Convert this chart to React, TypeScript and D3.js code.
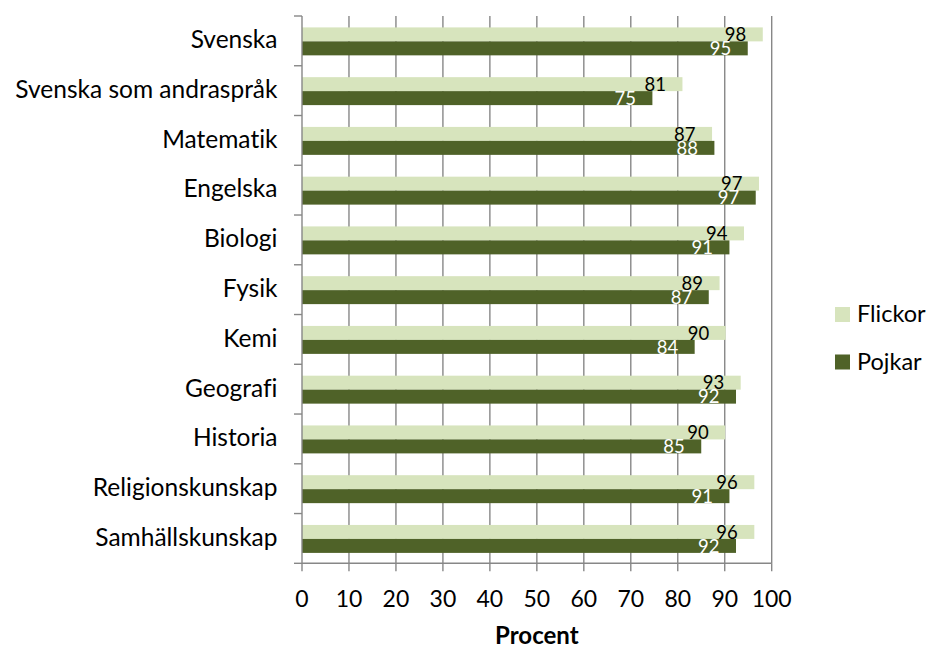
import React from 'react';
import * as d3 from 'd3';

const categories = [
  'Svenska',
  'Svenska som andraspråk',
  'Matematik',
  'Engelska',
  'Biologi',
  'Fysik',
  'Kemi',
  'Geografi',
  'Historia',
  'Religionskunskap',
  'Samhällskunskap',
];
const flickor = [98.1, 81.0, 87.3, 97.3, 94.1, 88.9, 90.2, 93.4, 90.1, 96.3, 96.3];
const pojkar = [94.9, 74.6, 87.8, 96.6, 91.0, 86.6, 83.6, 92.4, 85.0, 91.0, 92.4];
const seriesNames = ['Flickor', 'Pojkar'];
const seriesColors = ['#D7E4BD', '#4F6228'];
const labelColors = ['#000000', '#FFFFFF'];
const xTicks = [0, 10, 20, 30, 40, 50, 60, 70, 80, 90, 100];
const xTitle = 'Procent';

const W = 927;
const H = 648;
const FONT = 'Lato, "Open Sans", sans-serif';

export default function App() {
  const left = 302;
  const right = 771.7;
  const top = 16;
  const bottom = 563.3;

  const x = d3.scaleLinear().domain([0, 100]).range([left, right]);
  const y = d3.scaleBand<string>().domain(categories).range([top, bottom]).padding(0);
  const sub = d3
    .scaleBand<string>()
    .domain(seriesNames)
    .range([0, y.bandwidth()])
    .paddingInner(0)
    .paddingOuter(0.78);

  const series = [flickor, pojkar];
  const fmt = d3.format('.0f');
  const gridColor = '#878787';

  const catFs = 24.5;
  const tickFs = 23;
  const valFs = 18.5;
  const legFs = 23.5;

  const boundaries = d3.range(categories.length + 1).map((i) => top + i * y.step());

  return (
    <svg
      width={W}
      height={H}
      style={{ position: 'absolute', left: 0, top: 0, background: '#fff', fontVariantLigatures: 'none', fontFeatureSettings: '"liga" 0' }}
      fontFamily={FONT}
    >
      <rect x={0} y={0} width={W} height={H} fill="#fff" />
      {xTicks
        .filter((t) => t > 0)
        .map((t) => (
          <line
            key={'g' + t}
            x1={x(t)}
            x2={x(t)}
            y1={top}
            y2={bottom}
            stroke={gridColor}
            strokeWidth={1.4}
          />
        ))}
      {categories.map((c, i) =>
        series.map((s, k) => (
          <rect
            key={c + k}
            x={x(0)}
            y={(y(c) as number) + (sub(seriesNames[k]) as number) + 0.5}
            width={x(s[i]) - x(0)}
            height={sub.bandwidth()}
            fill={seriesColors[k]}
          />
        ))
      )}
      {categories.map((c, i) =>
        series.map((s, k) => (
          <text
            key={'v' + c + k}
            x={x(s[i]) - 16.5}
            y={(y(c) as number) + (sub(seriesNames[k]) as number) + 0.5 + sub.bandwidth() / 2 + valFs * 0.36}
            textAnchor="end"
            fontSize={valFs}
            fill={labelColors[k]}
          >
            {fmt(s[i])}
          </text>
        ))
      )}
      <line x1={left} x2={left} y1={top} y2={bottom} stroke={gridColor} strokeWidth={1.4} />
      {boundaries.map((b, i) => (
        <line key={'yt' + i} x1={left - 8} x2={left} y1={b} y2={b} stroke={gridColor} strokeWidth={1.4} />
      ))}
      {categories.map((c) => (
        <text
          key={'c' + c}
          x={277.5}
          y={(y(c) as number) + y.bandwidth() / 2 + catFs * 0.3}
          textAnchor="end"
          fontSize={catFs}
          fill="#000"
        >
          {c}
        </text>
      ))}
      <line x1={left} x2={right} y1={bottom} y2={bottom} stroke={gridColor} strokeWidth={1.4} />
      {xTicks.map((t) => (
        <line key={'xt' + t} x1={x(t)} x2={x(t)} y1={bottom} y2={bottom + 8} stroke={gridColor} strokeWidth={1.4} />
      ))}
      {xTicks.map((t) => (
        <text key={'xl' + t} x={x(t)} y={607} textAnchor="middle" fontSize={tickFs} fill="#000">
          {t}
        </text>
      ))}
      <text x={(left + right) / 2} y={644} textAnchor="middle" fontSize={24} fontWeight="bold" fill="#000">
        {xTitle}
      </text>
      {seriesNames.map((n, k) => (
        <g key={'l' + n} transform={`translate(835, ${307 + k * 47.5})`}>
          <rect x={0} y={0} width={15} height={15} fill={seriesColors[k]} />
          <text x={22} y={15} fontSize={legFs} fill="#000">
            {n}
          </text>
        </g>
      ))}
    </svg>
  );
}
